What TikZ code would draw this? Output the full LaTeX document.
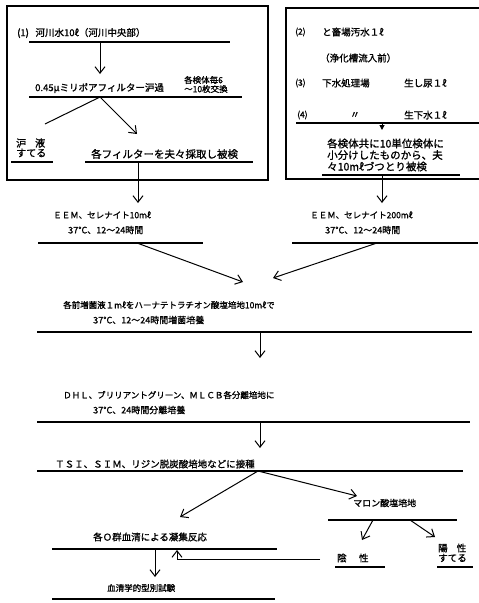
\documentclass[tikz,border=0pt]{standalone}
\usepackage{fontspec}
\newfontfamily\jp[FakeBold=1.2]{Noto Sans CJK JP}
\usetikzlibrary{arrows.meta}
\begin{document}
\begin{tikzpicture}[x=1pt,y=-1pt,
  txt/.style={font=\jp\fontsize{9.5}{11}\selectfont,inner sep=0pt,anchor=west},
  fs/.style={font=\jp\fontsize{#1}{#1}\selectfont},
  rule/.style={line width=1.1pt},
  frame/.style={line width=1.4pt},
  arr/.style={line width=1pt,-{Straight Barb[length=6.5pt,width=10pt,line width=1pt]}},
  ln/.style={line width=1pt},
  tri/.style={line width=1pt,-{Triangle[length=5pt,width=5pt]}}
  ]
\useasboundingbox (0,0) rectangle (479,603);
\fill[white] (0,0) rectangle (479,603);

% ---------- frames
\draw[frame] (7,6) rectangle (268,180);
\draw[frame] (479,8) -- (286,8) -- (286,179) -- (479,179);

% ---------- left box
\node[txt,fs=9.5] (t1) at (17,33) {(1)\hspace{0.7em}河川水10ℓ（河川中央部）};
\draw[rule] (29,42) -- (230,42);
\coordinate (a1s) at (100,42); \coordinate (a1e) at (100,74);
\draw[arr] (a1s) -- (a1e);
\node[txt,fs=9.5] (t2) at (35,88) {0.45μミリポアフィルター沪過};
\node[txt,fs=8.5] (t3a) at (184,80) {各検体毎6};
\node[txt,fs=8.5] (t3b) at (184,89) {～10枚交換};
\draw[rule] (29,97) -- (242,97);
\coordinate (sp1) at (100,97);
\coordinate (dr) at (45,124);
\coordinate (fi) at (137,134);
\draw[ln] (sp1) -- (dr);
\draw[arr] (sp1) -- (fi);
\node[txt,fs=10] (t4a) at (16,143) {沪\hspace{0.9em}液};
\node[txt,fs=10] (t4b) at (16,153) {すてる};
\draw[rule] (11,162) -- (53,162);
\node[txt,fs=10.5] (t5) at (91,154) {各フィルターを夫々採取し被検};
\draw[rule] (85,162) -- (253,162);
\coordinate (a2s) at (138,162); \coordinate (a2e) at (138,203);
\draw[arr] (a2s) -- (a2e);

% ---------- right box
\node[txt,fs=8.5] (r2) at (295,32) {(2)};
\node[txt,fs=9.5] (r2t) at (322,32) {と畜場汚水１ℓ};
\node[txt,fs=9.5] (r2p) at (320,58) {（浄化槽流入前）};
\node[txt,fs=8.5] (r3) at (295,83) {(3)};
\node[txt,fs=9.5] (r3t) at (322,83) {下水処理場};
\node[txt,fs=9.5] (r3u) at (404,83) {生し尿１ℓ};
\node[txt,fs=8.5] (r4) at (297,115) {(4)};
\node[txt,fs=9.5] (r4d) at (350,115) {〃};
\node[txt,fs=9.5] (r4t) at (404,115) {生下水１ℓ};
\draw[rule] (296,123) -- (479,123);
\coordinate (a3s) at (382,123); \coordinate (a3e) at (382,130);
\draw[tri] (a3s) -- (a3e);
\node[txt,align=left,font=\jp\fontsize{10.5}{11.5}\selectfont] (r5) at (327,155)
  {各検体共に10単位検体に\\小分けしたものから、夫\\々10mℓづつとり被検};
\draw[rule] (322,175) -- (460,175);
\coordinate (a4s) at (382,175); \coordinate (a4e) at (382,203);
\draw[arr] (a4s) -- (a4e);

% ---------- EEM
\node[txt,fs=8.5] (e1) at (53,215) {ＥＥＭ、セレナイト10mℓ};
\node[txt,fs=9] (e1b) at (68,230) {37°C、12～24時間};
\draw[rule] (38,243) -- (203,243);
\node[txt,fs=8.5] (e2) at (310,215) {ＥＥＭ、セレナイト200mℓ};
\node[txt,fs=9] (e2b) at (325,230) {37°C、12～24時間};
\draw[rule] (292,243) -- (478,243);
\coordinate (m1) at (137,243); \coordinate (m1e) at (243,282);
\coordinate (m2) at (377,243); \coordinate (m2e) at (273,278);
\draw[arr] (m1) -- (m1e);
\draw[arr] (m2) -- (m2e);

% ---------- enrichment
\node[txt,fs=8.5] (h1) at (63,305) {各前増菌液１mℓをハーナテトラチオン酸塩培地10mℓで};
\node[txt,fs=9] (h2) at (93,320) {37°C、12～24時間増菌培養};
\draw[rule] (37,332) -- (472,332);
\coordinate (b1s) at (260,332); \coordinate (b1e) at (260,358);
\draw[arr] (b1s) -- (b1e);

\node[txt,fs=8.5] (d1) at (63,395) {ＤＨＬ、ブリリアントグリーン、ＭＬＣＢ各分離培地に};
\node[txt,fs=9] (d2) at (93,410) {37°C、24時間分離培養};
\draw[rule] (37,422) -- (470,422);
\coordinate (b2s) at (260,422); \coordinate (b2e) at (260,448);
\draw[arr] (b2s) -- (b2e);

\node[txt,fs=9.5] (s1) at (55,464) {ＴＳＩ、ＳＩＭ、リジン脱炭酸培地などに接種};
\draw[rule] (37,471) -- (463,471);
\coordinate (sp2) at (258,471);
\coordinate (gL) at (180,517);
\coordinate (gR) at (357,496);
\draw[arr] (sp2) -- (gL);
\draw[arr] (sp2) -- (gR);

% ---------- malonate
\node[txt,fs=9] (mal) at (353,503) {マロン酸塩培地};
\draw[rule] (328,520) -- (457,520);
\coordinate (mn) at (373,520); \coordinate (mne) at (362,540);
\coordinate (mp) at (410,520); \coordinate (mpe) at (435,537);
\draw[arr] (mn) -- (mne);
\draw[arr] (mp) -- (mpe);
\node[txt,fs=9.5] (neg) at (337,558) {陰\hspace{1.3em}性};
\draw[rule] (335,567) -- (385,567);
\node[txt,fs=9.5] (pos) at (438,548) {陽\hspace{0.95em}性};
\node[txt,fs=9.5] (pos2) at (438,558) {すてる};
\draw[rule] (437,567) -- (473,567);

% ---------- agglutination
\node[txt,fs=9.5] (ag) at (93,537) {各Ｏ群血清による凝集反応};
\draw[rule] (52,549) -- (277,549);
\coordinate (fb1) at (320,559); \coordinate (fb2) at (177,559); \coordinate (fb3) at (177,550);
\draw[arr] (fb1) -- (fb2) -- (fb3);
\coordinate (c1s) at (155,549); \coordinate (c1e) at (155,577);
\draw[arr] (c1s) -- (c1e);
\node[txt,fs=8.5] (sero) at (107,588) {血清学的型別試験};
\draw[rule] (52,599) -- (275,599);
\end{tikzpicture}
\end{document}
